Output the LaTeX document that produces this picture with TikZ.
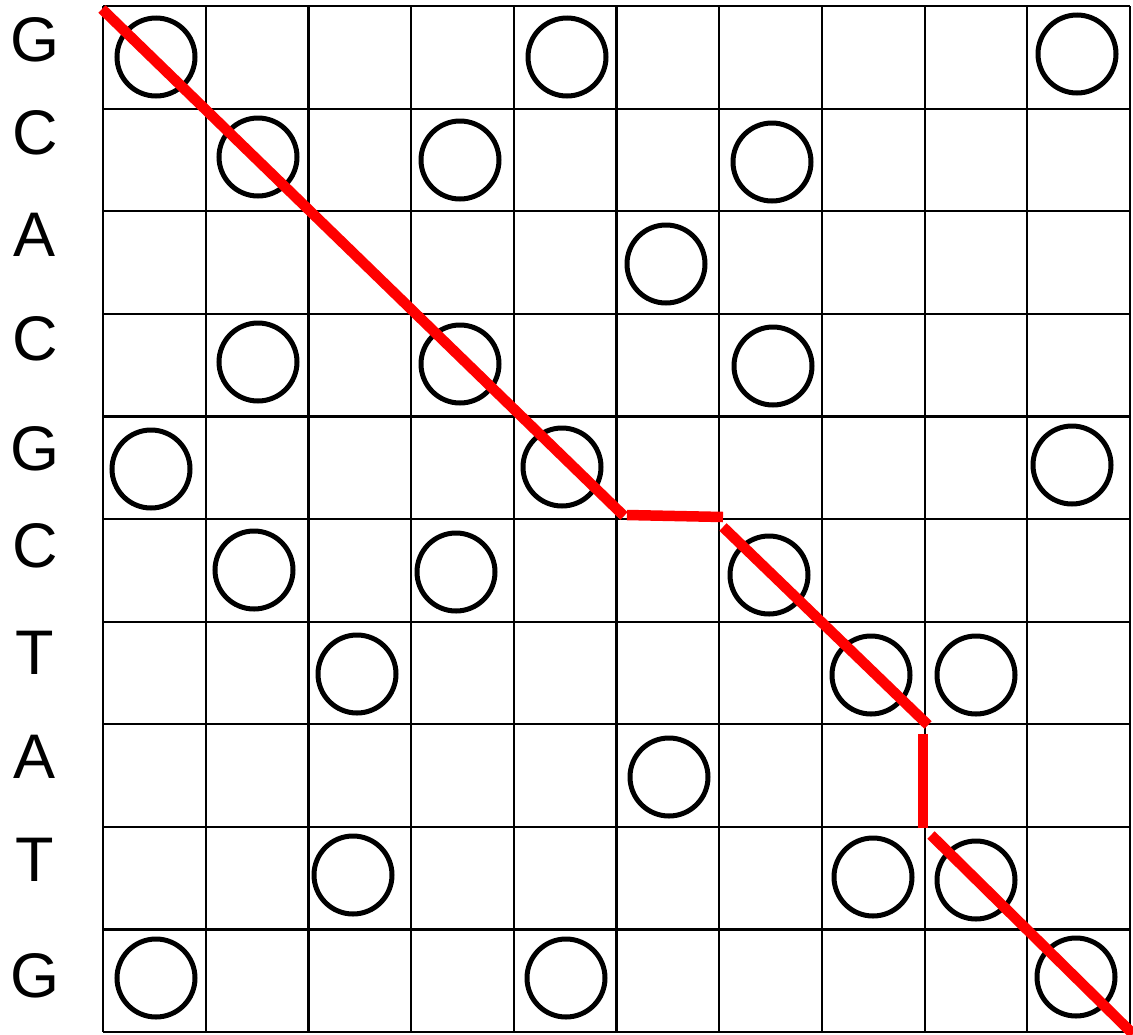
\documentclass[tikz,border=0pt]{standalone}
\usepackage{fontspec}
\setmainfont{Liberation Sans}
\begin{document}
\begin{tikzpicture}[x=1pt,y=-1pt,
  gridline/.style={line width=2.2pt,black},
  dot/.style={circle,draw=black,line width=5pt,minimum size=78pt,inner sep=0pt},
  lab/.style={font=\fontsize{63}{63}\selectfont,inner sep=0pt,anchor=center},
  path/.style={red,line width=10.5pt,line cap=butt}]
\useasboundingbox (0,0) rectangle (1133,1034);
% grid
\foreach \i in {0,...,10}{
  \draw[gridline] ({103+\i*102.7},6) -- ({103+\i*102.7},1032);
  \draw[gridline] (103,{6+\i*102.6}) -- (1130,{6+\i*102.6});
}
% labels
\node[lab] (l0) at (35,40) {G};
\node[lab] (l1) at (35,133) {C};
\node[lab] (l2) at (35,235) {A};
\node[lab] (l3) at (35,339) {C};
\node[lab] (l4) at (35,449) {G};
\node[lab] (l5) at (35,546) {C};
\node[lab] (l6) at (35,653) {T};
\node[lab] (l7) at (35,757) {A};
\node[lab] (l8) at (35,860) {T};
\node[lab] (l9) at (35,976) {G};
% circles
\node[dot] (c00) at (156,57) {};
\node[dot] (c04) at (567,57) {};
\node[dot] (c09) at (1077,54) {};
\node[dot] (c11) at (258,157) {};
\node[dot] (c13) at (460,160) {};
\node[dot] (c16) at (772,162) {};
\node[dot] (c25) at (666,264) {};
\node[dot] (c31) at (258,362) {};
\node[dot] (c33) at (460,364) {};
\node[dot] (c36) at (773,366) {};
\node[dot] (c40) at (151,469) {};
\node[dot] (c44) at (562,467) {};
\node[dot] (c49) at (1072,465) {};
\node[dot] (c51) at (254,570) {};
\node[dot] (c53) at (456,572) {};
\node[dot] (c56) at (769,575) {};
\node[dot] (c62) at (357,674) {};
\node[dot] (c67) at (871,675) {};
\node[dot] (c68) at (976,675) {};
\node[dot] (c75) at (669,777) {};
\node[dot] (c82) at (353,875) {};
\node[dot] (c87) at (873,877) {};
\node[dot] (c88) at (976,880) {};
\node[dot] (c90) at (156,978) {};
\node[dot] (c94) at (566,978) {};
\node[dot] (c99) at (1076,977) {};
% path coordinates
\coordinate (p1a) at (102,9);
\coordinate (p1b) at (624,516);
\coordinate (p2a) at (627,515);
\coordinate (p2b) at (723,517);
\coordinate (p3a) at (723,527);
\coordinate (p3b) at (928,725);
\coordinate (p4a) at (923,734);
\coordinate (p4b) at (923,828);
\coordinate (p5a) at (931,835);
\coordinate (p5b) at (1133,1034);
\draw[path] (p1a) -- (p1b);
\draw[path] (p2a) -- (p2b);
\draw[path] (p3a) -- (p3b);
\draw[path] (p4a) -- (p4b);
\draw[path] (p5a) -- (p5b);
\end{tikzpicture}
\end{document}
